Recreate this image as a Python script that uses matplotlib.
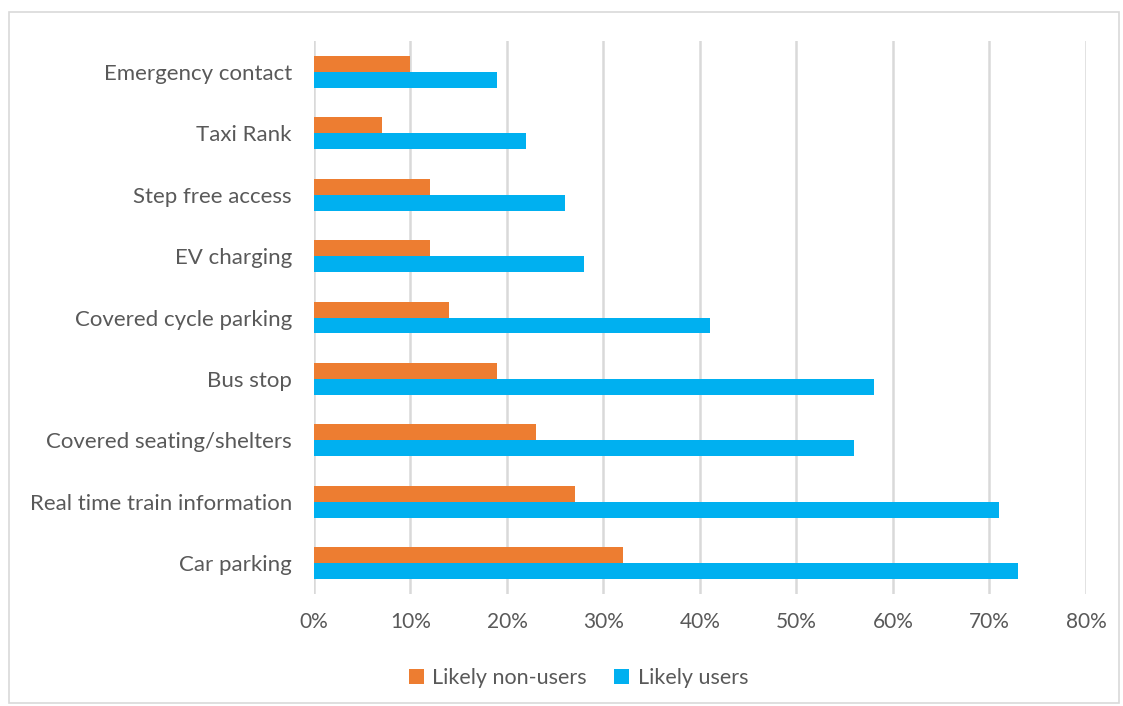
import matplotlib.pyplot as plt
import numpy as np
from matplotlib.patches import Rectangle
from matplotlib.ticker import PercentFormatter

categories = [
    "Car parking",
    "Real time train information",
    "Covered seating/shelters",
    "Bus stop",
    "Covered cycle parking",
    "EV charging",
    "Step free access",
    "Taxi Rank",
    "Emergency contact",
]
likely_non_users = [32, 27, 23, 19, 14, 12, 12, 7, 10]
likely_users = [73, 71, 56, 58, 41, 28, 26, 22, 19]
x_ticks = [0, 10, 20, 30, 40, 50, 60, 70, 80]

ORANGE = "#ED7D31"
BLUE = "#00B0F0"
TEXT = "#595959"
GRID = "#D9D9D9"

plt.rcParams["font.family"] = ["Lato", "DejaVu Sans"]

fig = plt.figure(figsize=(11.23, 7.06), dpi=100)
ax = fig.add_axes([0.2796, 0.159, 0.6874, 0.7825])

y = np.arange(len(categories))
h = 0.26
ax.barh(y + h / 2, likely_non_users, height=h, color=ORANGE, label="Likely non-users", zorder=3)
ax.barh(y - h / 2, likely_users, height=h, color=BLUE, label="Likely users", zorder=3)

ax.set_xlim(0, 80)
ax.set_ylim(-0.5, len(categories) - 0.5)
ax.set_xticks(x_ticks)
ax.xaxis.set_major_formatter(PercentFormatter(decimals=0))
ax.set_yticks(y)
ax.set_yticklabels(categories)
ax.tick_params(axis="both", length=0, labelcolor=TEXT)
ax.tick_params(axis="x", labelsize=15, pad=13)
ax.tick_params(axis="y", labelsize=16, pad=16)
ax.grid(axis="x", color=GRID, linewidth=1.8, zorder=0)
for side in ax.spines.values():
    side.set_visible(False)

ax.legend(
    loc="center",
    bbox_to_anchor=(0.515, 0.04),
    bbox_transform=fig.transFigure,
    ncol=2,
    frameon=False,
    fontsize=15.5,
    labelcolor=TEXT,
    handlelength=0.7,
    handleheight=0.7,
    handletextpad=0.4,
    columnspacing=1.25,
)

# thin grey frame around the whole chart
fig.patches.append(
    Rectangle((9 / 1123, 3 / 706), 1110 / 1123, 691 / 706, transform=fig.transFigure,
              fill=False, edgecolor="#D9D9D9", linewidth=1.2)
)

fig.savefig("out.png", dpi=100)
